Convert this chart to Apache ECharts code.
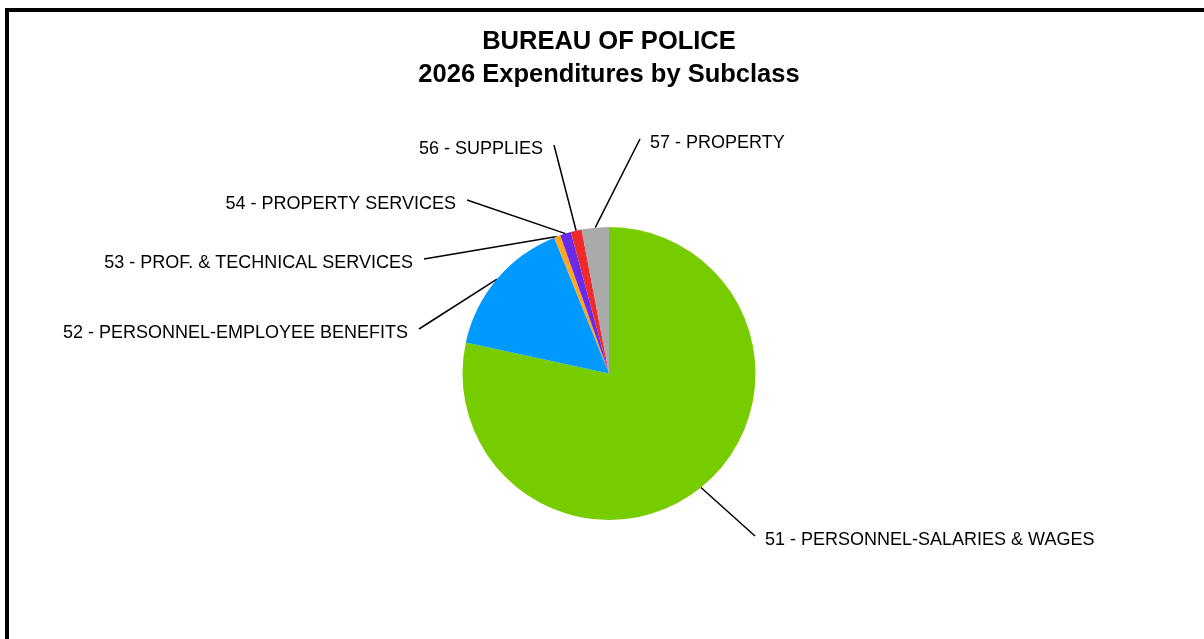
<!DOCTYPE html>
<html>
<head>
<meta charset="utf-8">
<title>Bureau of Police - 2026 Expenditures by Subclass</title>
<script src="https://cdn.jsdelivr.net/npm/echarts@6/dist/echarts.min.js"></script>
<style>
  html, body { margin: 0; padding: 0; background: #fff; }
  #chart { position: absolute; left: 0; top: 0; width: 1204px; height: 639px; }
  #frame {
    position: absolute; left: 5px; top: 8px; width: 1210px; height: 650px;
    border-left: 4px solid #000; border-top: 4px solid #000; pointer-events: none;
  }
</style>
</head>
<body>
<div id="chart"></div>
<div id="frame"></div>
<script>
// Expenditure subclasses, clockwise from 12 o'clock
const subclasses = [
  '51 - PERSONNEL-SALARIES & WAGES',
  '52 - PERSONNEL-EMPLOYEE BENEFITS',
  '53 - PROF. & TECHNICAL SERVICES',
  '54 - PROPERTY SERVICES',
  '56 - SUPPLIES',
  '57 - PROPERTY'
];
// Share of the 2026 budget, percent
const shares = [78.4, 15.5, 0.7, 1.2, 1.2, 3.0];

const sliceColors = ['#77CC00', '#0099FF', '#FFA722', '#6A2BE8', '#EE2A2A', '#AAAAAA'];

// Where each callout label sits (anchor point, alignment)
const labelSpots = [
  { x: 765, y: 540, align: 'left' },
  { x: 408, y: 333, align: 'right' },
  { x: 413, y: 263, align: 'right' },
  { x: 456, y: 204, align: 'right' },
  { x: 543, y: 149, align: 'right' },
  { x: 650, y: 143, align: 'left' }
];

const chart = echarts.init(document.getElementById('chart'), null, { renderer: 'canvas' });

chart.setOption({
  animation: false,
  backgroundColor: '#ffffff',
  title: {
    text: 'BUREAU OF POLICE\n2026 Expenditures by Subclass',
    left: 604,
    textAlign: 'center',
    top: 20,
    textStyle: {
      fontFamily: 'Liberation Sans, Arial, sans-serif',
      fontWeight: 'bold',
      fontSize: 25.5,
      lineHeight: 33,
      color: '#000'
    }
  },
  series: [{
    type: 'pie',
    center: [609, 373.5],
    radius: 146.5,
    startAngle: 90,
    clockwise: true,
    avoidLabelOverlap: false,
    itemStyle: { borderWidth: 0 },
    label: {
      show: true,
      position: 'outside',
      formatter: '{b}',
      fontFamily: 'Liberation Sans, Arial, sans-serif',
      fontSize: 18,
      color: '#000'
    },
    labelLine: {
      show: true,
      length: 20,
      length2: 0,
      lineStyle: { color: '#000', width: 1.5 }
    },
    labelLayout: function (params) {
      const spot = labelSpots[params.dataIndex];
      const out = { x: spot.x, y: spot.y, align: spot.align, verticalAlign: 'middle' };
      const pts = params.labelLinePoints;
      if (pts && pts.length) {
        const gap = spot.align === 'left' ? -10 : 11;
        out.labelLinePoints = [pts[0], [spot.x + gap, spot.y - 4]];
      }
      return out;
    },
    data: subclasses.map((name, i) => ({
      name: name,
      value: shares[i],
      itemStyle: { color: sliceColors[i] }
    }))
  }]
});
</script>
</body>
</html>
